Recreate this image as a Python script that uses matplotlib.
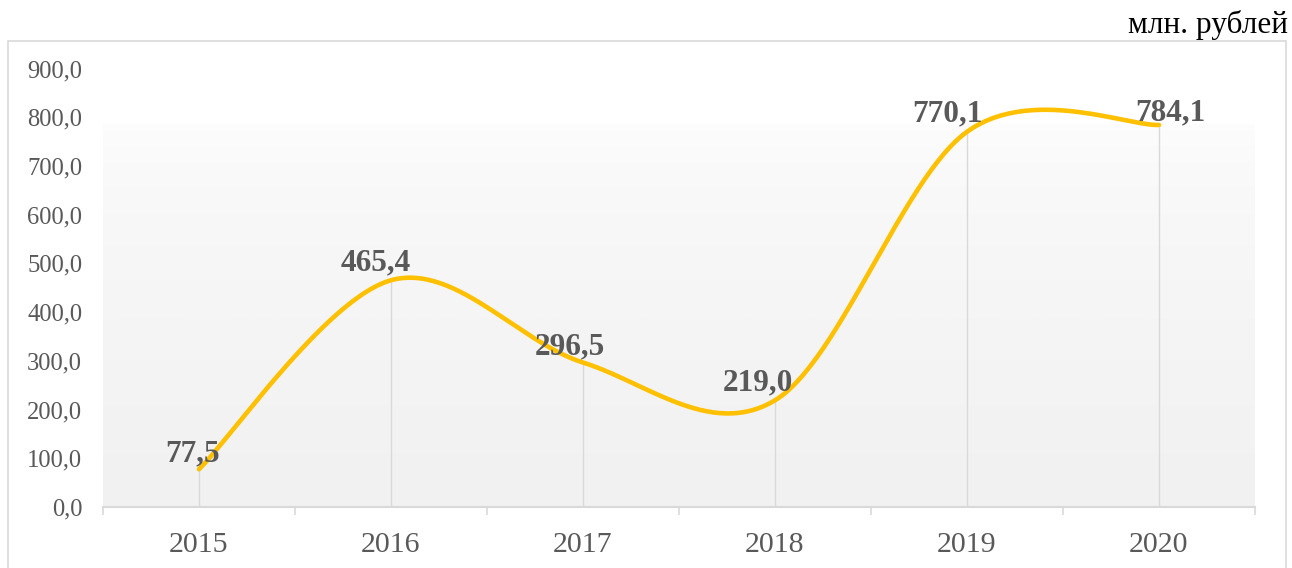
import numpy as np
import matplotlib.pyplot as plt
from matplotlib.patches import Rectangle

# data
years = ['2015', '2016', '2017', '2018', '2019', '2020']
values = [77.5, 465.4, 296.5, 219.0, 770.1, 784.1]
value_labels = ['77,5', '465,4', '296,5', '219,0', '770,1', '784,1']
y_ticks = [0, 100, 200, 300, 400, 500, 600, 700, 800, 900]
y_tick_labels = ['0,0', '100,0', '200,0', '300,0', '400,0', '500,0',
                 '600,0', '700,0', '800,0', '900,0']
unit_label = 'млн. рублей'

# style
lineColor = '#FFC000'
textColor = '#595959'
gridColor = '#D9D9D9'
serif = 'Liberation Serif'
labelOffsets = [(-6, 8), (-15, 10), (-13, 8), (-17, 10), (-20, 10), (11, 5)]


def smoothLine(xs, ys, n=60):
    # Excel-like smoothed line (Catmull-Rom as cubic Bezier)
    pts = np.column_stack([xs, ys]).astype(float)
    padded = np.vstack([pts[0], pts, pts[-1]])
    out = []
    t = np.linspace(0, 1, n)[:, None]
    for i in range(len(pts) - 1):
        p0, p1, p2, p3 = padded[i], padded[i + 1], padded[i + 2], padded[i + 3]
        c1 = p1 + (p2 - p0) / 6
        c2 = p2 - (p3 - p1) / 6
        seg = (1 - t) ** 3 * p1 + 3 * (1 - t) ** 2 * t * c1 + 3 * (1 - t) * t ** 2 * c2 + t ** 3 * p2
        out.append(seg if i == 0 else seg[1:])
    return np.vstack(out)


W, H = 1292, 568
fig = plt.figure(figsize=(W / 100, H / 100), dpi=100)
fig.patch.set_facecolor('white')

# chart border (bottom edge falls outside the picture)
fig.patches.append(Rectangle((8 / W, -0.05), (1286 - 8) / W, 1 - 41 / H + 0.05,
                             transform=fig.transFigure, fill=False,
                             edgecolor=gridColor, linewidth=1.2))

ax = fig.add_axes([103 / W, 1 - 507 / H, (1255 - 103) / W, (507 - 68.5) / H])
ax.set_facecolor('none')
ax.set_xlim(-0.5, len(years) - 0.5)
ax.set_ylim(0, 900)

# plot area gradient
grad = np.linspace(0, 1, 256) ** 0.6
grad = grad[:, None]
ax.imshow(grad, extent=[-0.5, len(years) - 0.5, 0, 785], origin='upper',
          cmap=plt.matplotlib.colors.LinearSegmentedColormap.from_list(
              'g', ['#FDFDFD', '#F1F1F1']),
          aspect='auto', zorder=0, vmin=0, vmax=1)

x = np.arange(len(years))
ax.vlines(x, 0, values, colors=gridColor, linewidth=1.0, zorder=1)

curve = smoothLine(x, values)
ax.plot(curve[:, 0], curve[:, 1], color=lineColor, linewidth=3.3,
        solid_capstyle='round', zorder=3)

for xi, v, lab, off in zip(x, values, value_labels, labelOffsets):
    ax.annotate(lab, (xi, v), xytext=off, textcoords='offset pixels',
                ha='center', va='baseline', fontsize=22.5, fontweight='bold',
                color=textColor, family=serif, zorder=4)

for side in ['top', 'right', 'left']:
    ax.spines[side].set_visible(False)
ax.spines['bottom'].set_color(gridColor)
ax.spines['bottom'].set_linewidth(1.5)

ax.set_xticks(x)
ax.set_xticklabels(years, fontsize=21.5, color=textColor, family=serif)
ax.set_xticks(np.arange(-0.5, len(years), 1.0), minor=True)
ax.tick_params(axis='x', which='major', length=0, pad=18)
ax.tick_params(axis='x', which='minor', length=5.5, width=1.2, color=gridColor, direction='out')

ax.set_yticks(y_ticks)
ax.set_yticklabels(y_tick_labels, fontsize=17.7, color=textColor, family=serif)
ax.tick_params(axis='y', length=0, pad=15)

fig.text(1288 / W, 1 - 33 / H, unit_label, ha='right', va='baseline',
         fontsize=22.5, color='black', family=serif)

fig.savefig('out.png', dpi=100)
